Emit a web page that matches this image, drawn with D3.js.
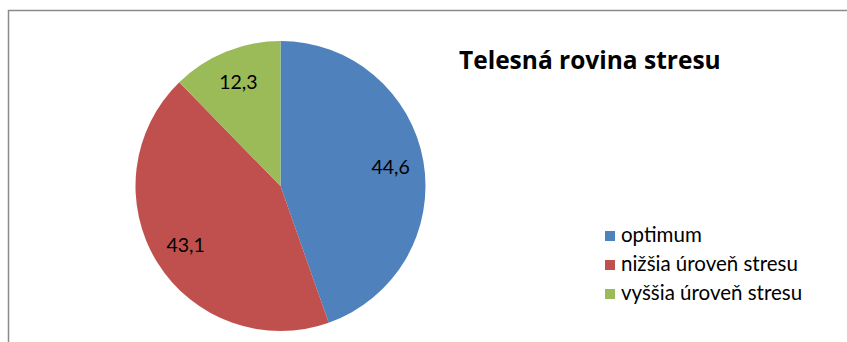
<!DOCTYPE html>
<html>
<head>
<meta charset="utf-8">
<script src="https://cdn.jsdelivr.net/npm/d3@7"></script>
<style>
  html, body { margin: 0; padding: 0; background: #fff; }
  svg { display: block; font-family: Lato, "Open Sans", sans-serif; }
</style>
</head>
<body>
<svg id="chart" width="847" height="342"></svg>
<script>
// Stress level categories and their shares (%)
const categories = ["optimum", "nižšia úroveň stresu", "vyššia úroveň stresu"];
const values = [44.6, 43.1, 12.3];
const valueLabels = ["44,6", "43,1", "12,3"];
const colors = ["#4F81BD", "#C0504D", "#9BBB59"];
const title = "Telesná rovina stresu";

const svg = d3.select("#chart");
const W = 847, H = 342;

// chart area frame (right and bottom edges run off the page)
svg.append("rect")
  .attr("x", 8.5).attr("y", 10.5)
  .attr("width", W + 20).attr("height", H + 20)
  .attr("fill", "#fff")
  .attr("stroke", "#8a8a8a")
  .attr("stroke-width", 1.5);

const cx = 280.5, cy = 186, r = 145;

const pie = d3.pie().sort(null).value(d => d.value);
const data = categories.map((c, i) => ({ cat: c, value: values[i], label: valueLabels[i], color: colors[i] }));
const arcs = pie(data);

const arc = d3.arc().innerRadius(0).outerRadius(r);
const labelArc = d3.arc().innerRadius(r * 0.77).outerRadius(r * 0.77);

const g = svg.append("g").attr("transform", `translate(${cx},${cy})`);

g.selectAll("path.slice")
  .data(arcs)
  .join("path")
  .attr("class", "slice")
  .attr("d", arc)
  .attr("fill", d => d.data.color);

g.selectAll("text.val")
  .data(arcs)
  .join("text")
  .attr("class", "val")
  .attr("transform", d => `translate(${labelArc.centroid(d)})`)
  .attr("text-anchor", "middle")
  .attr("dy", "0.35em")
  .attr("font-size", 19.5)
  .attr("fill", "#000")
  .text(d => d.data.label);

// title
svg.append("text")
  .attr("x", 459).attr("y", 69)
  .attr("font-family", "'Open Sans', sans-serif")
  .attr("font-size", 24.5)
  .attr("font-weight", "bold")
  .attr("fill", "#000")
  .text(title);

// legend
const legend = svg.append("g").attr("transform", "translate(605,231)");
const rows = legend.selectAll("g.row")
  .data(data)
  .join("g")
  .attr("class", "row")
  .attr("transform", (d, i) => `translate(0,${i * 29})`);
rows.append("rect")
  .attr("width", 10).attr("height", 10)
  .attr("fill", d => d.color);
rows.append("text")
  .attr("x", 16).attr("y", 11)
  .attr("font-size", 20.5)
  .attr("fill", "#000")
  .text(d => d.cat);
</script>
</body>
</html>
